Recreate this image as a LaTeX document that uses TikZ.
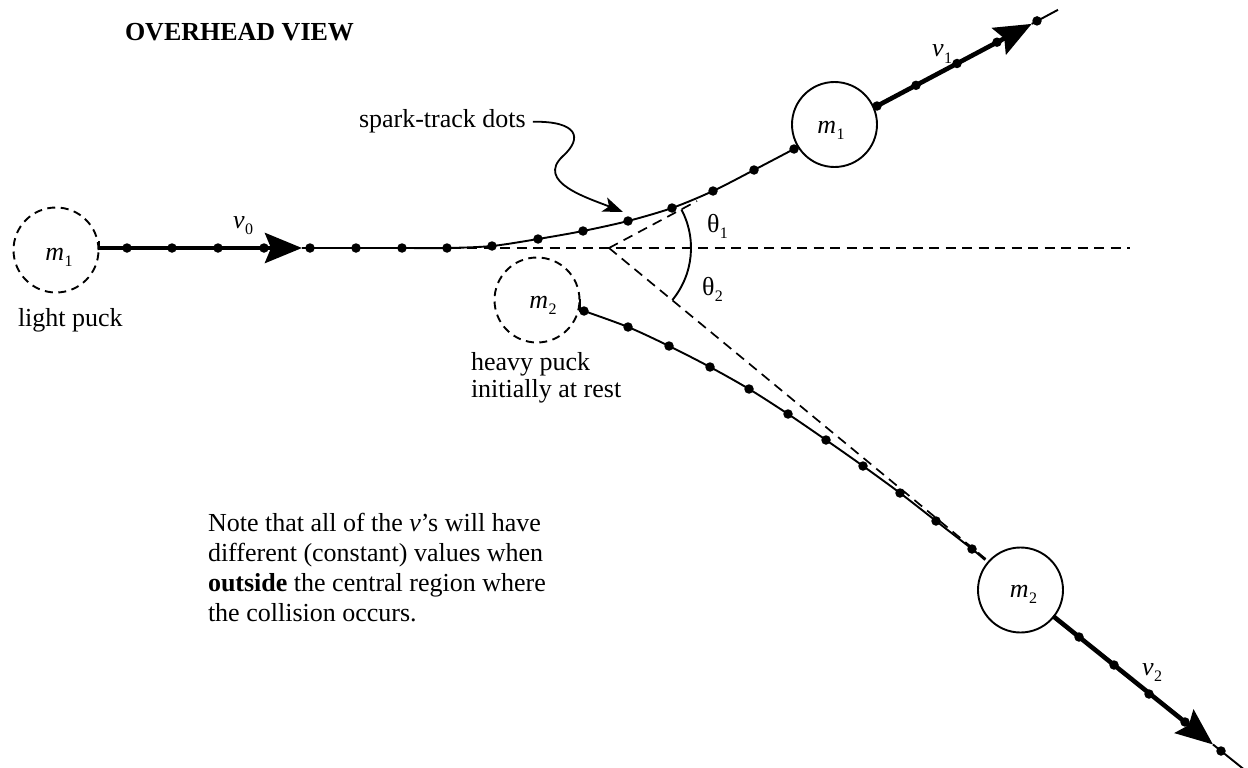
\documentclass[tikz,border=0pt]{standalone}
\usepackage{fontspec}
\setmainfont{Liberation Serif}
\usetikzlibrary{arrows.meta}
\newcommand\subl[2]{#1\kern0.5pt\raisebox{-6pt}{\fontsize{16}{16}\selectfont #2}}
\begin{document}
\begin{tikzpicture}[x=1pt,y=-1pt,
  txt/.style={inner sep=0pt, outer sep=0pt, font=\fontsize{26}{30}\selectfont},
  track/.style={line width=1.9pt},
  fast/.style={line width=4.6pt},
  refline/.style={line width=1.7pt, dash pattern=on 10pt off 6.5pt},
  puck/.style={circle, draw, line width=1.9pt, minimum size=85pt, inner sep=0pt},
  ghost/.style={puck, dash pattern=on 8pt off 5.5pt},
  sdot/.style={circle, fill, inner sep=0pt, minimum size=9.5pt},
  bigtip/.style={-{Stealth[length=37pt,width=30pt,inset=6pt]}},
]
\fill[white] (0,0) rectangle (1248,768);
\useasboundingbox (0,0) rectangle (1248,768);

% pucks
\node[ghost] (m1a) at (56,250) {};
\node[ghost] (m2a) at (537,300) {};
\node[puck] (m1b) at (834.5,124.5) {};
\node[puck] (m2b) at (1020.5,590) {};
\node[txt, anchor=base] (m1al) at (59,260) {\subl{\textit{m}}{1}};
\node[txt, anchor=base] (m2al) at (543,308) {\subl{\textit{m}}{2}};
\node[txt, anchor=base] (m1bl) at (831,133) {\subl{\textit{m}}{1}};
\node[txt, anchor=base] (m2bl) at (1023.5,597) {\subl{\textit{m}}{2}};

% key points
\coordinate (s0) at (99,248);
\coordinate (a0) at (302,248);
\coordinate (V) at (609,248);
\coordinate (refend) at (1130,248);
\coordinate (t1end) at (697,201);
\coordinate (t2end) at (987,560);
\coordinate (s1) at (877,106);
\coordinate (a1) at (1031.7,23.9);
\coordinate (e1) at (1058,9.8);
\coordinate (s2) at (1053,616);
\coordinate (a2) at (1213,744.5);
\coordinate (e2) at (1250,774.2);

% reference (dashed) lines and angle arc
\draw[refline] (a0) -- (refend);
\draw[refline] (V) -- (t1end);
\draw[refline] (V) -- (t2end);
\draw[line width=1.9pt] (V) ++(-28:82) arc[start angle=-28, end angle=39.5, radius=82];

% incoming light puck
\draw[track] (99,241) -- (s0);
\draw[fast,bigtip] (s0) -- (a0);
\draw[track] plot[smooth, tension=0.5] coordinates {(302,248) (356,248) (402,248) (447,248) (492,246) (538,239) (583,231) (628,221) (672,208) (713,191) (754,170) (794,149)};

% outgoing light puck
\draw[fast,bigtip] (s1) -- (a1);
\draw[track] (a1) -- (e1);

% heavy puck
\draw[track] (580,299) -- (580,311) -- (584,311);
\draw[track] plot[smooth, tension=0.5] coordinates {(584,311) (628,327) (669,346) (710,367) (749,389) (788,414) (826,440) (863,466) (900,493) (936,521) (972,549) (985,560)};
\draw[fast,bigtip] (s2) -- (a2);
\draw[track] (a2) -- (e2);

% spark dots
\foreach \p [count=\i] in {(127,248),(172,248),(218,248),(264,248),(310,248),(356,248),(402,248),(447,248),(492,246),(538,239),(583,231),(628,221),(672,208),(713,191),(754,170),(794,149),(877,106),(916,85.3),(957,63.5),(997,42.2),(1037,20.9),(584,311),(628,327),(669,346),(710,367),(749,389),(788,414),(826,440),(863,466),(900,493),(936,521),(972,549),(1079,637),(1114,665),(1149,694),(1185,722),(1221,751)}
  \node[sdot] (d\i) at \p {};

% labels
\node[txt, font=\fontsize{26}{30}\selectfont\bfseries, anchor=base west] (title) at (125,40.5) {OVERHEAD VIEW};
\node[txt, anchor=base west] (spark) at (359,128) {spark-track dots};
\node[txt, anchor=base west] (lp) at (18,326) {light puck};
\node[txt, anchor=base west] (hp) at (471,370) {\parbox[t]{300pt}{\fontsize{26}{27}\selectfont\raggedright heavy puck\\ initially at rest}};
\node[txt, anchor=base west] (note) at (208,531) {\parbox[t]{400pt}{\fontsize{26}{30}\selectfont\raggedright Note that all of the \textit{v}’s will have\\ different (constant) values when\\ \textbf{outside} the central region where\\ the collision occurs.}};
\node[txt, anchor=base west] (v0) at (233,228) {\subl{\textit{v}}{0}};
\node[txt, anchor=base west] (v1) at (932,57) {\subl{\textit{v}}{1}};
\node[txt, anchor=base west] (v2) at (1142,675) {\subl{\textit{v}}{2}};
\node[txt, anchor=base west] (th1) at (707,232) {\subl{θ}{1}};
\node[txt, anchor=base west] (th2) at (702,295) {\subl{θ}{2}};

% pointer arrow
\draw[line width=1.8pt, -{Stealth[length=20pt,width=15pt,inset=5pt]}]
  ([xshift=7pt]spark.east) .. controls (578,121) and (583,138) .. (563,156)
  .. controls (535,182) and (588,198) .. (623,212);
\end{tikzpicture}
\end{document}
